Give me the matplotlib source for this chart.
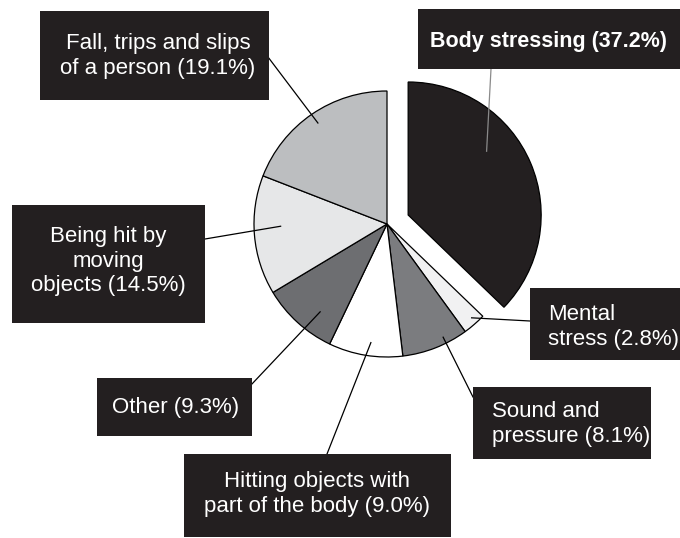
import numpy as np
import matplotlib
matplotlib.use("Agg")
import matplotlib.pyplot as plt
from matplotlib.patches import Rectangle

# slice data, clockwise from the top
labels = ["Body stressing (37.2%)", "Mental\nstress (2.8%)", "Sound and\npressure (8.1%)",
          "Hitting objects with\npart of the body (9.0%)", "Other (9.3%)",
          "Being hit by\nmoving\nobjects (14.5%)", "Fall, trips and slips\nof a person (19.1%)"]
values = [37.2, 2.8, 8.1, 9.0, 9.3, 14.5, 19.1]
colors = ["#231f20", "#f1f1f2", "#7b7c7f", "#ffffff", "#6d6e71", "#e6e7e8", "#bcbec0"]

# layout in pixels (y measured from top): box x0, x1, y0, y1, text x, text y, align
W, H = 680, 538
boxes = [(418, 680, 9, 69, 549, 41, "center"),
         (530, 680, 288, 360, 548, 327, "left"),
         (473, 651, 387, 459, 492, 424, "left"),
         (184, 451, 454, 537, 317, 494, "center"),
         (97, 252, 378, 436, 176, 407, "center"),
         (12, 205, 205, 323, 108, 261, "center"),
         (40, 269, 11, 100, 158, 56, "center")]
# where the leader line meets the box
box_ends = [(491, 69), (530, 321), (473, 397), (327, 454), (251, 385), (205, 239), (268, 57)]
# where the leader line ends inside the wedge: (fraction along arc, fraction of radius)
anchors = [(0.62, 0.76), (0.6, 0.95), (0.67, 0.95), (0.55, 0.9), (0.65, 0.83), (0.43, 0.8), (0.5, 0.92)]

cx, cy, r = 387, 224, 133
explode = [23, 0, 0, 0, 0, 0, 0]

fig = plt.figure(figsize=(6.8, 5.38), dpi=100)
ax = fig.add_axes([0, 0, 1, 1])
wedges, _ = ax.pie(values, colors=colors, startangle=90, counterclock=False,
                   explode=explode, radius=r, center=(cx, H - cy),
                   wedgeprops=dict(edgecolor="black", linewidth=0.9))
ax.set_xlim(0, W)
ax.set_ylim(0, H)
ax.set_aspect("auto")
ax.axis("off")

for i, w in enumerate(wedges):
    t, f = anchors[i]
    ang = np.radians(w.theta1 + t * (w.theta2 - w.theta1))
    x_in = w.center[0] + f * w.r * np.cos(ang)
    y_in = w.center[1] + f * w.r * np.sin(ang)
    bx, by = box_ends[i]
    lc = "#8a8a8a" if i == 0 else "black"
    ax.plot([x_in, bx], [y_in, H - by], color=lc, lw=0.9, zorder=3)

    x0, x1, y0, y1, tx, ty, al = boxes[i]
    ax.add_patch(Rectangle((x0, H - y1), x1 - x0, y1 - y0, facecolor="#231f20",
                           edgecolor="none", zorder=4))
    bold = i == 0
    ax.text(tx, H - ty, labels[i], color="white", fontsize=15.5 if bold else 16,
            family="Liberation Sans", fontweight="bold" if bold else "normal",
            ha=al, va="center", multialignment=al, linespacing=1.22, zorder=5)

fig.savefig("out.png", dpi=100)
